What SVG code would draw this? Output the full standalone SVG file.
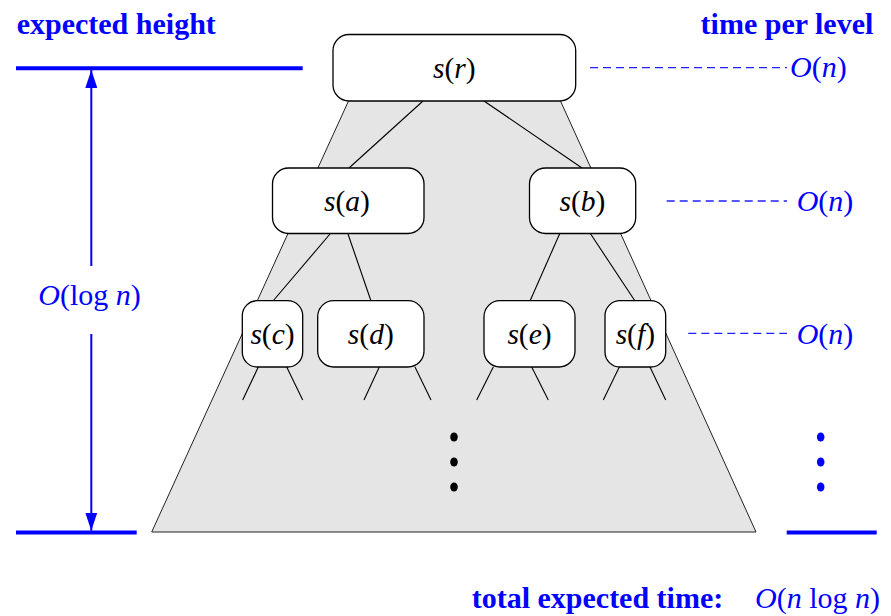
<svg xmlns="http://www.w3.org/2000/svg" width="891" height="616" viewBox="0 0 891 616">
<style>
.box{fill:#fff;stroke:#000;stroke-width:1.3}
.lbl{font-family:"Liberation Serif","Times New Roman",serif;font-size:29.5px;fill:#000;text-anchor:middle}
.it{font-style:italic}
.edge{stroke:#000;stroke-width:1.1;fill:none}
.blue{fill:#0000ff}
.title{font-family:"Liberation Serif","Times New Roman",serif;font-size:30px;font-weight:bold;fill:#0000ff}
.math{font-family:"Liberation Serif","Times New Roman",serif;font-size:30px;fill:#0000ff}
.dash{stroke:#2020ff;stroke-width:1.3;stroke-dasharray:8 5;fill:none}
.bar{stroke:#0000ff;stroke-width:4;fill:none}
.arr{stroke:#0000ff;stroke-width:2;fill:none}
</style>
<defs>
<marker id="ah" viewBox="0 0 18 12" refX="18" refY="6" markerWidth="18" markerHeight="12" markerUnits="userSpaceOnUse" orient="auto">
<path d="M0,0 L18,6 L0,12 z" fill="#0000ff"/>
</marker>
</defs>
<rect width="891" height="616" fill="#fff"/>

<polygon id="hull" points="353.5,90 555.5,90 756,532 151.7,532" fill="#e5e5e5" stroke="#222" stroke-width="1"/>

<g id="connectors">
<line class="edge" x1="423" y1="101" x2="349" y2="168"/>
<line class="edge" x1="484" y1="101" x2="582" y2="168"/>
<line class="edge" x1="330" y1="234" x2="273" y2="301"/>
<line class="edge" x1="348" y1="234" x2="371" y2="301"/>
<line class="edge" x1="560" y1="233" x2="530" y2="301"/>
<line class="edge" x1="590" y1="233" x2="635" y2="301"/>
<line class="edge" x1="258.3" y1="367" x2="242.7" y2="400"/>
<line class="edge" x1="286.7" y1="367" x2="302.7" y2="400"/>
<line class="edge" x1="379.3" y1="367" x2="364" y2="400"/>
<line class="edge" x1="415" y1="367" x2="431" y2="400"/>
<line class="edge" x1="493.3" y1="367" x2="476.7" y2="400"/>
<line class="edge" x1="531.7" y1="367" x2="548.3" y2="400"/>
<line class="edge" x1="619.3" y1="367" x2="603.3" y2="400"/>
<line class="edge" x1="650" y1="367" x2="665.7" y2="400"/>
</g>

<g id="node-r">
<rect class="box" x="333" y="34.5" width="242.7" height="66.5" rx="16"/>
<text class="lbl" x="454.3" y="77.5"><tspan class="it">s</tspan>(<tspan class="it">r</tspan>)</text>
</g>
<g id="node-a">
<rect class="box" x="272.5" y="168" width="151.5" height="65.5" rx="16"/>
<text class="lbl" x="347" y="210.5"><tspan class="it">s</tspan>(<tspan class="it">a</tspan>)</text>
</g>
<g id="node-b">
<rect class="box" x="529.5" y="168" width="106.2" height="65.5" rx="16"/>
<text class="lbl" x="582.5" y="210.5"><tspan class="it">s</tspan>(<tspan class="it">b</tspan>)</text>
</g>
<g id="node-c">
<rect class="box" x="242.3" y="300.7" width="60.4" height="66.3" rx="15"/>
<text class="lbl" x="272.5" y="344"><tspan class="it">s</tspan>(<tspan class="it">c</tspan>)</text>
</g>
<g id="node-d">
<rect class="box" x="317.7" y="300.7" width="106.3" height="66.3" rx="16"/>
<text class="lbl" x="370.8" y="344"><tspan class="it">s</tspan>(<tspan class="it">d</tspan>)</text>
</g>
<g id="node-e">
<rect class="box" x="484" y="300.7" width="91" height="66.3" rx="16"/>
<text class="lbl" x="529.5" y="344"><tspan class="it">s</tspan>(<tspan class="it">e</tspan>)</text>
</g>
<g id="node-f">
<rect class="box" x="605" y="300.7" width="60.7" height="66.3" rx="15"/>
<text class="lbl" x="635.3" y="344"><tspan class="it">s</tspan>(<tspan class="it">f</tspan>)</text>
</g>

<g id="dots-tree" fill="#000">
<ellipse cx="454" cy="437" rx="3.8" ry="4.5"/>
<ellipse cx="454" cy="462" rx="3.8" ry="4.5"/>
<ellipse cx="454" cy="487" rx="3.8" ry="4.5"/>
</g>

<g id="height-scale">
<line class="bar" x1="16" y1="68.3" x2="302.7" y2="68.3"/>
<line class="bar" x1="16" y1="532.5" x2="136.7" y2="532.5"/>
<line class="arr" x1="91.3" y1="266" x2="91.3" y2="70" marker-end="url(#ah)"/>
<line class="arr" x1="91.3" y1="334" x2="91.3" y2="530.7" marker-end="url(#ah)"/>
<text class="math" x="89.6" y="305" text-anchor="middle"><tspan class="it">O</tspan>(log <tspan class="it">n</tspan>)</text>
<text class="title" x="16.7" y="34">expected height</text>
</g>

<g id="time-scale">
<text class="title" x="873.3" y="34" text-anchor="end">time per level</text>
<line class="dash" x1="590" y1="67.7" x2="787" y2="67.7"/>
<text class="math" x="790" y="77"><tspan class="it">O</tspan>(<tspan class="it">n</tspan>)</text>
<line class="dash" x1="666.7" y1="201" x2="787" y2="201"/>
<text class="math" x="796.7" y="211"><tspan class="it">O</tspan>(<tspan class="it">n</tspan>)</text>
<line class="dash" x1="688.3" y1="333.3" x2="787" y2="333.3"/>
<text class="math" x="796.7" y="344"><tspan class="it">O</tspan>(<tspan class="it">n</tspan>)</text>
<g fill="#0000ff">
<ellipse cx="820.7" cy="437" rx="3.8" ry="4.5"/>
<ellipse cx="820.7" cy="462" rx="3.8" ry="4.5"/>
<ellipse cx="820.7" cy="487" rx="3.8" ry="4.5"/>
</g>
<line class="bar" x1="786.7" y1="532.5" x2="876.7" y2="532.5"/>
<text class="title" x="471.7" y="608">total expected time:</text>
<text class="math" x="755" y="608"><tspan class="it">O</tspan>(<tspan class="it">n</tspan> log <tspan class="it">n</tspan>)</text>
</g>
</svg>
